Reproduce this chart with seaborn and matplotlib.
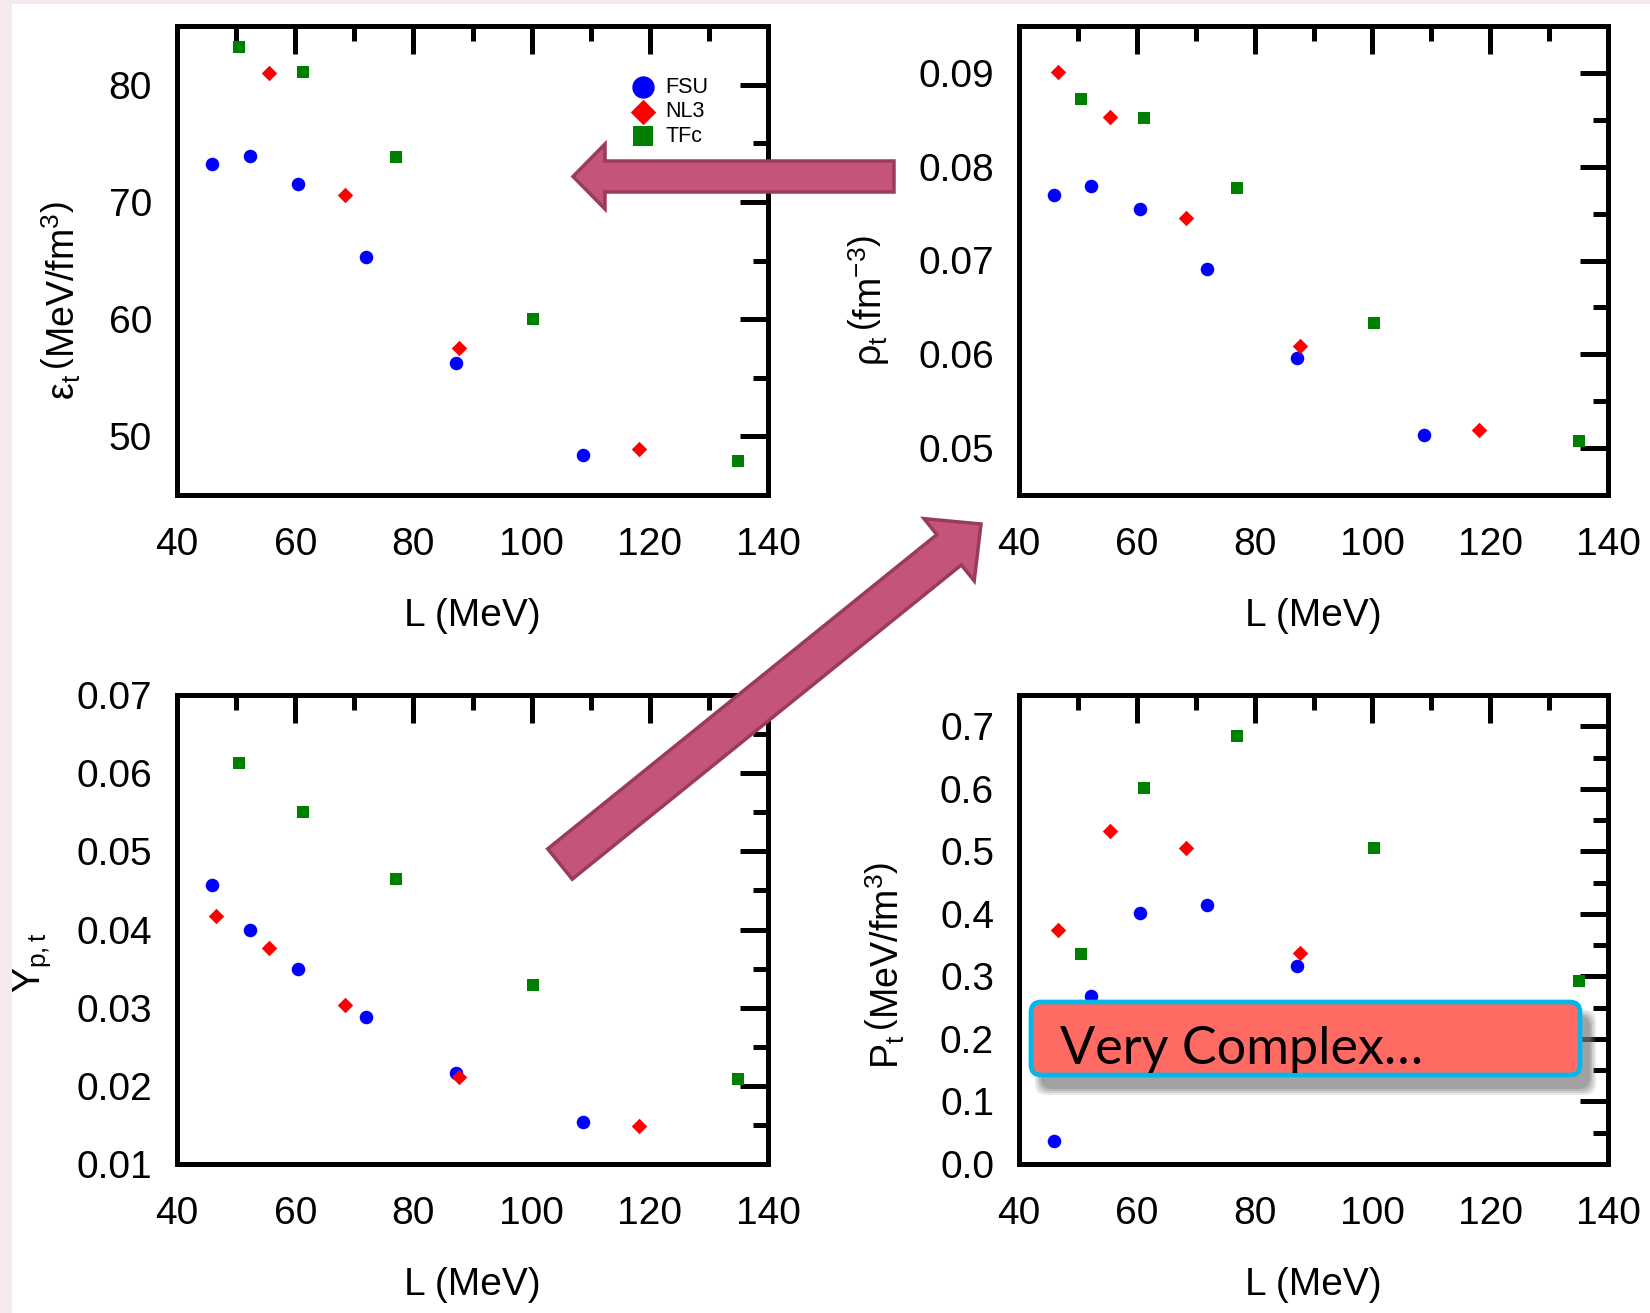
import numpy as np
import pandas as pd
import matplotlib
matplotlib.use('Agg')
import matplotlib.pyplot as plt
import matplotlib.transforms as mtransforms
from matplotlib.patches import FancyArrow, FancyBboxPatch, Rectangle
from matplotlib.ticker import MultipleLocator, AutoMinorLocator
import seaborn as sns

# ---------------- data ----------------
models = ['FSU', 'NL3', 'TFc']

L_FSU = [45.9, 52.3, 60.5, 71.9, 87.2, 108.7]
L_NL3 = [46.6, 55.5, 68.4, 87.7, 118.1]
L_TFc = [50.5, 61.3, 77.0, 100.2, 135.0]

eps_FSU = [73.2, 73.9, 71.5, 65.3, 56.3, 48.4]
eps_NL3 = [np.nan, 81.0, 70.6, 57.5, 48.9]      # first point off scale
eps_TFc = [83.2, 81.1, 73.8, 60.0, 47.9]

rho_FSU = [0.0770, 0.0779, 0.0755, 0.0691, 0.0596, 0.0514]
rho_NL3 = [0.0901, 0.0853, 0.0745, 0.0609, 0.0519]
rho_TFc = [0.0872, 0.0852, 0.0777, 0.0633, 0.0508]

Yp_FSU = [0.0457, 0.0399, 0.0350, 0.0288, 0.0216, 0.0154]
Yp_NL3 = [0.0417, 0.0376, 0.0303, 0.0211, 0.0148]
Yp_TFc = [0.0613, 0.0550, 0.0465, 0.0329, 0.0209]

P_FSU = [0.036, 0.268, 0.402, 0.414, 0.316, 0.20]   # last one hidden under box
P_NL3 = [0.374, 0.533, 0.506, 0.337, 0.20]          # last one hidden under box
P_TFc = [0.336, 0.602, 0.685, 0.505, 0.293]

x_ticks = [40, 60, 80, 100, 120, 140]

rows = []
for m, L, e, r, y, p in [('FSU', L_FSU, eps_FSU, rho_FSU, Yp_FSU, P_FSU),
                         ('NL3', L_NL3, eps_NL3, rho_NL3, Yp_NL3, P_NL3),
                         ('TFc', L_TFc, eps_TFc, rho_TFc, Yp_TFc, P_TFc)]:
    for i in range(len(L)):
        rows.append(dict(model=m, L=L[i], eps=e[i], rho=r[i], Yp=y[i], P=p[i]))
df = pd.DataFrame(rows)

colors = {'FSU': '#0000FF', 'NL3': '#FF0000', 'TFc': '#008000'}
markers = {'FSU': 'o', 'NL3': 'D', 'TFc': 's'}
msizes = {'FSU': 95, 'NL3': 62, 'TFc': 72}

# ---------------- style ----------------
sns.set_theme(style='white')
plt.rcParams['font.family'] = ['Liberation Sans', 'DejaVu Sans']
plt.rcParams['mathtext.fontset'] = 'custom'
plt.rcParams['mathtext.rm'] = 'Liberation Sans'
plt.rcParams['mathtext.it'] = 'Liberation Sans:italic'
plt.rcParams['mathtext.bf'] = 'Liberation Sans:bold'
plt.rcParams['text.color'] = 'black'
plt.rcParams['axes.labelcolor'] = 'black'
plt.rcParams['xtick.color'] = 'black'
plt.rcParams['ytick.color'] = 'black'

W, H = 1650, 1313
fig = plt.figure(figsize=(W / 100, H / 100), dpi=100)
fig.patch.set_facecolor('#F6EAF1')
pix = mtransforms.Affine2D().scale(1 / W, -1 / H).translate(0, 1) + fig.transFigure
fig.add_artist(Rectangle((12, 4), W - 12, H - 4, transform=pix,
                         facecolor='white', edgecolor='none', zorder=-10))

panels = [
    # col, rect(left, top, right, bottom in px), ylim, major, ylabel, label x, label y
    ('eps', (177, 26, 768, 495), (45, 85), 10,
     r'$\mathrm{\varepsilon}_{\mathrm{t}}\,\left(\mathrm{MeV/fm}^{3}\right)$', -0.197, 0.415),
    ('rho', (1019, 26, 1608, 495), (0.045, 0.095), 0.01,
     r'$\mathrm{\rho}_{\mathrm{t}}\,\left(\mathrm{fm}^{-3}\right)$', -0.255, 0.415),
    ('Yp', (177, 695, 768, 1164), (0.01, 0.07), 0.01,
     r'$\mathrm{Y}_{\mathrm{p,t}}$', -0.245, 0.43),
    ('P', (1019, 695, 1608, 1164), (0.0, 0.75), 0.1,
     r'$\mathrm{P}_{\mathrm{t}}\,\left(\mathrm{MeV/fm}^{3}\right)$', -0.228, 0.424),
]

axes = []
for col, (l, t, r, b), ylim, major, ylab, lx, ly in panels:
    ax = fig.add_axes([l / W, 1 - b / H, (r - l) / W, (b - t) / H])
    axes.append(ax)
    for m in models:
        sub = df[df['model'] == m]
        sns.scatterplot(data=sub, x='L', y=col, ax=ax, marker=markers[m],
                        s=msizes[m], color=colors[m], linewidth=0,
                        label=m, legend=False, zorder=3)
    ax.set_xlim(40, 140)
    ax.set_ylim(*ylim)
    ax.set_xticks(x_ticks)
    ax.xaxis.set_minor_locator(AutoMinorLocator(2))
    ax.yaxis.set_major_locator(MultipleLocator(major))
    ax.yaxis.set_minor_locator(AutoMinorLocator(2))
    if col == 'P':
        ax.set_yticklabels([f'{v:.1f}' for v in ax.get_yticks()])
    for s in ax.spines.values():
        s.set_linewidth(3.6)
        s.set_color('black')
        s.set_visible(True)
    ax.tick_params(which='both', direction='in', top=True, right=True,
                   color='black', width=3.6, labelcolor='black')
    ax.tick_params(which='major', length=20, labelsize=28)
    ax.tick_params(which='minor', length=11)
    ax.tick_params(axis='x', which='major', pad=23)
    ax.tick_params(axis='y', which='major', pad=18)
    ax.set_xlabel('L (MeV)', fontsize=28, color='black')
    ax.xaxis.label.set_va('center')
    ax.xaxis.set_label_coords(0.5, -0.258)
    ax.set_ylabel(ylab, fontsize=27, color='black')
    ax.yaxis.label.set_va('center')
    ax.yaxis.set_label_coords(lx, ly)
    if ax.get_legend() is not None:
        ax.get_legend().remove()

leg = axes[0].legend(loc='center', bbox_to_anchor=(0.833, 0.817), frameon=False,
                     fontsize=15.5, markerscale=1.65, handletextpad=0.4,
                     labelspacing=0.15, borderpad=0, handlelength=1.2)
for txt in leg.get_texts():
    txt.set_color('black')

# ---------------- slide decorations ----------------
arrow_fc = '#C4547A'
arrow_ec = '#9A3A5C'
fig.add_artist(FancyArrow(894, 176.5, 573 - 894, 0, width=31, head_width=65,
                          head_length=32, length_includes_head=True,
                          transform=pix, facecolor=arrow_fc, edgecolor=arrow_ec,
                          linewidth=2.5, zorder=20))
fig.add_artist(FancyArrow(560, 864, 981 - 560, 524 - 864, width=39, head_width=80,
                          head_length=41, length_includes_head=True,
                          transform=pix, facecolor=arrow_fc, edgecolor=arrow_ec,
                          linewidth=2.5, zorder=20))

bx, by, bw, bh = 1031, 1002, 549, 73
for k, a in enumerate([0.18, 0.22, 0.28, 0.35]):
    g = 6 - 2 * k
    fig.add_artist(FancyBboxPatch((bx + 10 - g, by + 14 - g), bw + 2 * g, bh + 2 * g,
                                  boxstyle='round,pad=0,rounding_size=12',
                                  transform=pix, facecolor='#7a7a7a',
                                  edgecolor='none', alpha=a, zorder=21))
fig.add_artist(FancyBboxPatch((bx, by), bw, bh,
                              boxstyle='round,pad=0,rounding_size=10',
                              transform=pix, facecolor='#FF6A62',
                              edgecolor='#00B7EE', linewidth=3.4, zorder=22))
fig.text(1060 / W, 1 - 1064 / H, 'Very Complex\u2026', fontsize=37.5,
         family=['Lato', 'DejaVu Sans'], color='black', ha='left', va='baseline',
         zorder=23)

fig.savefig('out.png', dpi=100, facecolor=fig.get_facecolor())
